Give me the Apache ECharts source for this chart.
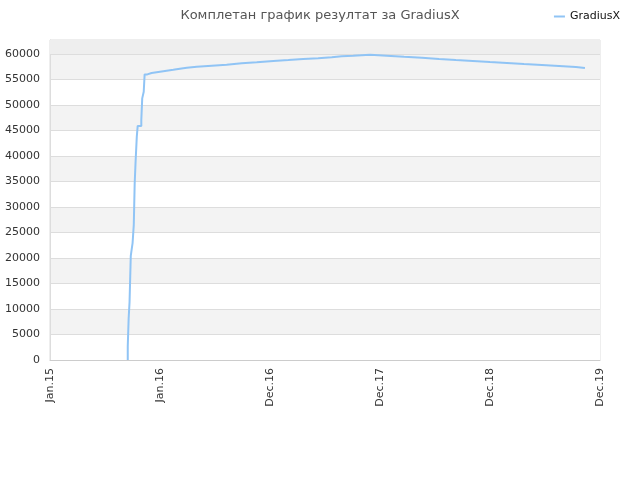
<!DOCTYPE html>
<html>
<head>
<meta charset="utf-8">
<script src="https://cdn.jsdelivr.net/npm/echarts@6/dist/echarts.min.js"></script>
<style>
  html, body { margin: 0; padding: 0; background: #fff; }
  #chart { width: 640px; height: 480px; }
</style>
</head>
<body>
<div id="chart"></div>
<script>
// tick labels of the x axis, one per year step
var tickLabels = ['Jan.15', 'Jan.16', 'Dec.16', 'Dec.17', 'Dec.18', 'Dec.19'];
var daysPerTick = 365;

// days since Jan.15 where the score changed
var days = [258, 258, 261, 264, 268, 271, 274, 278, 281, 284, 288, 291, 303, 306, 311, 314,
    323, 337, 365, 387, 409, 431, 454, 487, 537, 586, 636, 686, 741, 791, 840, 890, 935,
    968, 1006, 1062, 1117, 1175, 1234, 1291, 1347, 1403, 1460, 1516, 1573, 1632, 1689,
    1745, 1775];
// score value from that day on
var scores = [0, 2700, 8200, 11400, 20400, 21700, 22900, 26500, 34600, 38900, 43800, 45900,
    47100, 51300, 52600, 56000, 56280, 56530, 56730, 56920, 57120, 57310, 57510, 57710,
    57900, 58180, 58370, 58630, 58820, 59020, 59160, 59350, 59550, 59670, 59860, 59670,
    59470, 59280, 59020, 58820, 58630, 58430, 58240, 58040, 57840, 57650, 57450, 57260, 57260];

var seriesName = 'GradiusX';
var yMax = 62750;

var chart = echarts.init(document.getElementById('chart'));

var points = days.map(function (d, i) { return [d, scores[i]]; });

var option = {
    animation: false,
    title: {
        text: 'Комплетан график резултат за GradiusX',
        left: 'center',
        top: 4,
        textStyle: { fontSize: 13, fontWeight: 'normal', color: '#555', fontFamily: 'DejaVu Sans' }
    },
    legend: {
        right: 15,
        top: 6,
        icon: 'rect',
        itemWidth: 11,
        itemHeight: 2,
        itemGap: 8,
        textStyle: { fontSize: 11, color: '#111', fontFamily: 'DejaVu Sans' },
        data: [seriesName]
    },
    grid: {
        left: 50, right: 40, top: 40, bottom: 120,
        show: true,
        borderColor: '#dddddd',
        borderWidth: 1
    },
    xAxis: {
        type: 'value',
        min: 0,
        max: daysPerTick * (tickLabels.length - 1),
        interval: daysPerTick,
        axisLine: { show: true, lineStyle: { color: '#cccccc' } },
        axisTick: { show: false },
        splitLine: { show: false },
        axisLabel: {
            rotate: 90,
            fontSize: 11,
            color: '#333',
            fontFamily: 'DejaVu Sans',
            margin: 8,
            formatter: function (v) { return tickLabels[Math.round(v / daysPerTick)]; }
        }
    },
    yAxis: {
        type: 'value',
        min: 0,
        max: yMax,
        interval: 5000,
        axisLine: { show: true, lineStyle: { color: '#dddddd' } },
        axisTick: { show: false },
        axisLabel: {
            fontSize: 11, color: '#333', fontFamily: 'DejaVu Sans',
            showMaxLabel: false, margin: 10,
            formatter: function (v) { return String(v); }
        },
        splitLine: { lineStyle: { color: '#dddddd' } },
        splitArea: { show: true, areaStyle: { color: ['#ffffff', '#f3f3f3'] } }
    },
    series: [{
        name: seriesName,
        type: 'line',
        step: 'end',
        showSymbol: false,
        data: points,
        lineStyle: { color: '#90c4f5', width: 2 },
        itemStyle: { color: '#90c4f5' },
        markArea: {
            silent: true,
            itemStyle: { color: '#eeeeee' },
            data: [[{ yAxis: 60000 }, { yAxis: yMax }]]
        }
    }]
};

chart.setOption(option);
</script>
</body>
</html>
